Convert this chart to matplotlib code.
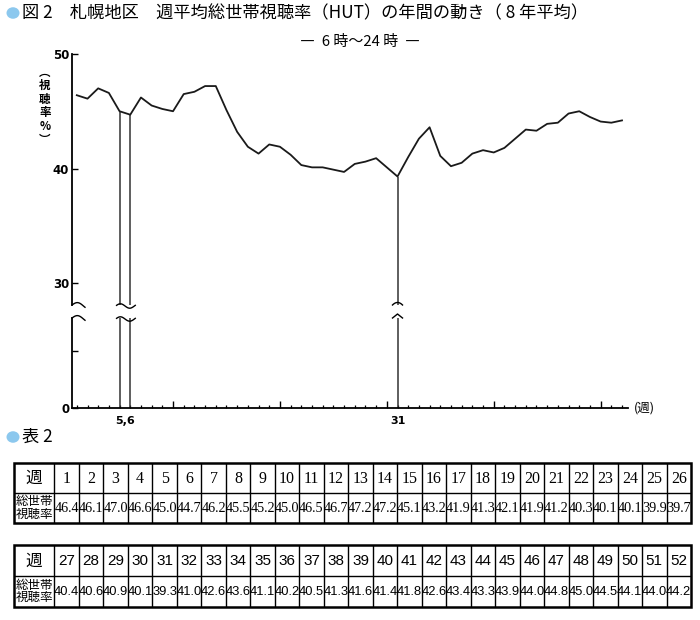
import numpy as np
import matplotlib
matplotlib.use('Agg')
import matplotlib.pyplot as plt
from matplotlib.patches import Circle, Rectangle

plt.rcParams['font.family'] = ['Noto Sans CJK JP', 'DejaVu Sans']

# ---------------- data ----------------
weeks = list(range(1, 53))
hut = [46.4, 46.1, 47.0, 46.6, 45.0, 44.7, 46.2, 45.5, 45.2, 45.0, 46.5, 46.7, 47.2,
       47.2, 45.1, 43.2, 41.9, 41.3, 42.1, 41.9, 41.2, 40.3, 40.1, 40.1, 39.9, 39.7,
       40.4, 40.6, 40.9, 40.1, 39.3, 41.0, 42.6, 43.6, 41.1, 40.2, 40.5, 41.3, 41.6,
       41.4, 41.8, 42.6, 43.4, 43.3, 43.9, 44.0, 44.8, 45.0, 44.5, 44.1, 44.0, 44.2]
marked_weeks = [5, 6, 31]
x_labels = [(5.5, '5,6'), (31, '31')]
y_ticks = [0, 30, 40, 50]
y_minor = [10]
x_major = [10, 20, 30, 40, 50]
title = '図 2　札幌地区　週平均総世帯視聴率（HUT）の年間の動き（ 8 年平均）'
subtitle = '―  6 時～24 時  ―'
table_title = '表 2'
row_head = '週'
row_label = '総世帯\n視聴率'

W, H = 700, 620
fig = plt.figure(figsize=(W / 100, H / 100), dpi=100)
fig.patch.set_facecolor('white')

def fx(px):
    return px / W

def fy(py):
    return 1 - py / H

dot_color = '#8cc8ee'

# title
fig.patches.append(Circle((fx(13), fy(13)), 6.5 / W, transform=fig.transFigure,
                          facecolor=dot_color, edgecolor='none'))
fig.text(fx(22), fy(13), title, fontsize=12.4, va='center', ha='left')
fig.text(fx(360), fy(42), subtitle, fontsize=10.8, va='center', ha='center')

# ---------------- chart ----------------
ax_l, ax_r, ax_t, ax_b = 72, 628, 54, 408
ax = fig.add_axes([fx(ax_l), fy(ax_b), (ax_r - ax_l) / W, (ax_b - ax_t) / H])
ax_w, ax_h = ax_r - ax_l, ax_b - ax_t

scale_v = np.array([0, 10, 30, 50], float)
scale_p = np.array([0, 57, 125, 354], float)

def fwd(v):
    v = np.asarray(v, float)
    return np.where(v > 50, 354 + (v - 50) * 11.45,
                    np.where(v < 0, v * 5.7, np.interp(v, scale_v, scale_p)))

def inv(p):
    p = np.asarray(p, float)
    return np.where(p > 354, 50 + (p - 354) / 11.45,
                    np.where(p < 0, p / 5.7, np.interp(p, scale_p, scale_v)))

ax.set_yscale('function', functions=(fwd, inv))
xmin, xmax = 0.55, 0.55 + ax_w / 10.69
ax.set_xlim(xmin, xmax)
ax.set_ylim(0, 50)

ax.plot(weeks, hut, color='#1a1a1a', lw=1.3, zorder=3)

# axis break (in pixels from axis bottom)
p_lo, p_hi = 90, 103
v_lo, v_hi = float(inv(p_lo)), float(inv(p_hi))

for w in marked_weeks:
    ax.vlines(w, 0, v_lo, color='#333333', lw=1.1)
    ax.vlines(w, v_hi, hut[w - 1], color='#333333', lw=1.1)

for s in ['top', 'right', 'left']:
    ax.spines[s].set_visible(False)
ax.spines['bottom'].set_linewidth(1.3)

ax.plot([xmin, xmin], [0, v_lo], color='k', lw=1.3, clip_on=False)
ax.plot([xmin, xmin], [v_hi, 50], color='k', lw=1.3, clip_on=False)

def xfrac(w):
    return (w - xmin) / (xmax - xmin)

def draw_px(x0f, dxs, ps, **kw):
    xs = x0f + np.asarray(dxs) / ax_w
    ys = np.asarray(ps) / ax_h
    ax.plot(xs, ys, transform=ax.transAxes, clip_on=False, color='k', lw=1.0, **kw)

t = np.linspace(0, 1, 30)
# y-axis break waves
for p in (p_hi, p_lo):
    draw_px(0, t * 13, p + 2.8 * np.sin(np.pi * t * 1.15) - 1.0 * t)
# weeks 5,6 break waves
x5 = xfrac(5)
span = xfrac(6) - x5
for p in (p_hi - 1, p_lo - 1):
    dx = -3 + t * (span * ax_w + 8)
    draw_px(x5, dx, p + 2.2 * np.sin(2 * np.pi * t + 0.3))
# week 31 chevrons
x31 = xfrac(31)
u = np.linspace(-5, 5, 21)
draw_px(x31, u, p_hi + 2.5 * (1 - (u / 5) ** 2))
draw_px(x31, u, p_lo + 4 - 4 * np.abs(u) / 5)

ax.set_yticks(y_ticks)
ax.set_yticklabels([str(v) for v in y_ticks])
ax.set_yticks(y_minor, minor=True)
ax.tick_params(axis='y', which='both', direction='in', length=4, width=1.0,
               labelsize=8.5, pad=2)
ax.set_xticks(x_major)
ax.set_xticklabels([])
ax.set_xticks(weeks, minor=True)
ax.tick_params(axis='x', which='major', direction='in', length=5, width=1.0)
ax.tick_params(axis='x', which='minor', direction='in', length=2.5, width=0.9)
for lab in ax.get_yticklabels():
    lab.set_family(['Liberation Sans Narrow', 'DejaVu Sans'])
    lab.set_fontweight('bold')

for xv, txt in x_labels:
    ax.text(xv, -0.022, txt, transform=ax.get_xaxis_transform(), ha='center', va='top',
            fontsize=8, fontweight='bold', family=['Liberation Sans Narrow', 'DejaVu Sans'])
ax.text(1.01, 0, '(週)', transform=ax.transAxes, ha='left', va='center', fontsize=9)

fig.text(fx(45), fy(106), '︵\n視\n聴\n率\n%\n︶', fontsize=8.3, ha='center', va='center',
         linespacing=1.05, fontweight='bold')

# ---------------- tables ----------------
fig.patches.append(Circle((fx(13), fy(437)), 6.5 / W, transform=fig.transFigure,
                          facecolor=dot_color, edgecolor='none'))
fig.text(fx(22), fy(437), table_title, fontsize=12.4, va='center', ha='left')

first_w = 1.65

def draw_table(top, bottom, wk, vals, numfont, hsize, dsize):
    ta = fig.add_axes([fx(14), fy(bottom), (691 - 14) / W, (bottom - top) / H])
    ta.set_axis_off()
    n = len(wk)
    ta.set_xlim(0, first_w + n)
    ta.set_ylim(2, 0)
    ta.add_patch(Rectangle((0, 0), first_w + n, 2, fill=False, lw=1.8, ec='k', clip_on=False))
    ta.plot([0, first_w + n], [1, 1], color='k', lw=1.0)
    for k in range(n):
        ta.plot([first_w + k, first_w + k], [0, 2], color='k', lw=1.0)
    ta.text(first_w / 2, 0.52, row_head, ha='center', va='center', fontsize=12)
    ta.text(first_w / 2, 1.5, row_label, ha='center', va='center', fontsize=9.0,
            linespacing=0.9)
    for k in range(n):
        ta.text(first_w + k + 0.5, 0.52, str(wk[k]), ha='center', va='center',
                fontsize=hsize, family=numfont)
        ta.text(first_w + k + 0.5, 1.52, f'{vals[k]:.1f}', ha='center', va='center',
                fontsize=dsize, family=numfont)

draw_table(463, 523, weeks[:26], hut[:26], ['Liberation Serif', 'DejaVu Serif'], 11.5, 10.2)
draw_table(545, 607, weeks[26:], hut[26:], ['Liberation Sans', 'DejaVu Sans'], 11, 9.3)

fig.savefig('out.png', dpi=100, facecolor='white')
